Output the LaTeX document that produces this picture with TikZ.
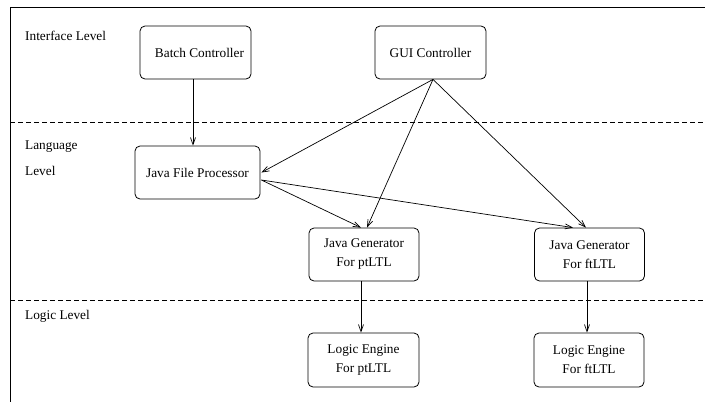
\documentclass[tikz,border=0pt]{standalone}
\usepackage{fontspec}
\setmainfont{Liberation Serif}
\usetikzlibrary{arrows.meta}
\begin{document}
\begin{tikzpicture}[x=1pt,y=-1pt,
  box/.style={draw,line width=0.8pt,rounded corners=5pt,align=center,inner sep=0pt,
    font=\fontsize{13.3}{19}\selectfont},
  lvl/.style={anchor=west,inner sep=0pt,font=\fontsize{13.3}{16}\selectfont},
  conn/.style={line width=0.7pt,-{Straight Barb[length=7pt,width=5pt]}},
  sep/.style={line width=0.8pt,dash pattern=on 4.5pt off 3.5pt}]
\useasboundingbox (0,0) rectangle (705,402);
% frame
\draw[line width=0.9pt] (10,402) -- (10,7) -- (705,7);
\draw[sep] (10,122) -- (705,122);
\draw[sep] (10,300) -- (705,300);
% level labels
\node[lvl] (lif) at (25,36) {Interface Level};
\node[lvl] (llang) at (25,147) {Language};
\node[lvl] (llev) at (25,171) {Level};
\node[lvl] (llog) at (25,316) {Logic Level};
% boxes
\node[box,minimum width=111,minimum height=53] (batch) at (195.5,52.5) {\hspace*{8pt}Batch Controller};
\node[box,minimum width=111,minimum height=53] (gui) at (430.5,52.5) {GUI Controller};
\node[box,minimum width=125,minimum height=53] (jfp) at (197.5,172.5) {Java File Processor};
\node[box,minimum width=110,minimum height=53] (genpt) at (364,254.5) {Java Generator\\For ptLTL};
\node[box,minimum width=110,minimum height=53] (genft) at (589.5,254.5) {Java Generator\\For ftLTL};
\node[box,minimum width=111,minimum height=54] (logpt) at (363.5,360) {Logic Engine\\For ptLTL};
\node[box,minimum width=110,minimum height=54] (logft) at (589,360) {Logic Engine\\For ftLTL};
% connectors
\draw[conn] ([xshift=-2.5pt]batch.south) -- ([xshift=-4.5pt]jfp.north);
\draw[conn] ([xshift=2.5pt]gui.south) -- ([xshift=1pt]jfp.east);
\draw[conn] ([xshift=2.5pt]gui.south) -- ([xshift=3pt]genpt.north);
\draw[conn] ([xshift=2.5pt]gui.south) -- ([xshift=-3.5pt]genft.north);
\draw[conn] ([yshift=-7.5pt,xshift=1pt]jfp.east) -- ([xshift=-3pt]genpt.north);
\draw[conn] ([yshift=-7.5pt,xshift=1pt]jfp.east) -- ([xshift=-16.5pt]genft.north);
\draw[conn] ([xshift=-3pt]genpt.south) -- ([xshift=-2.5pt]logpt.north);
\draw[conn] ([xshift=-2.5pt]genft.south) -- ([xshift=-2pt]logft.north);
\end{tikzpicture}
\end{document}
